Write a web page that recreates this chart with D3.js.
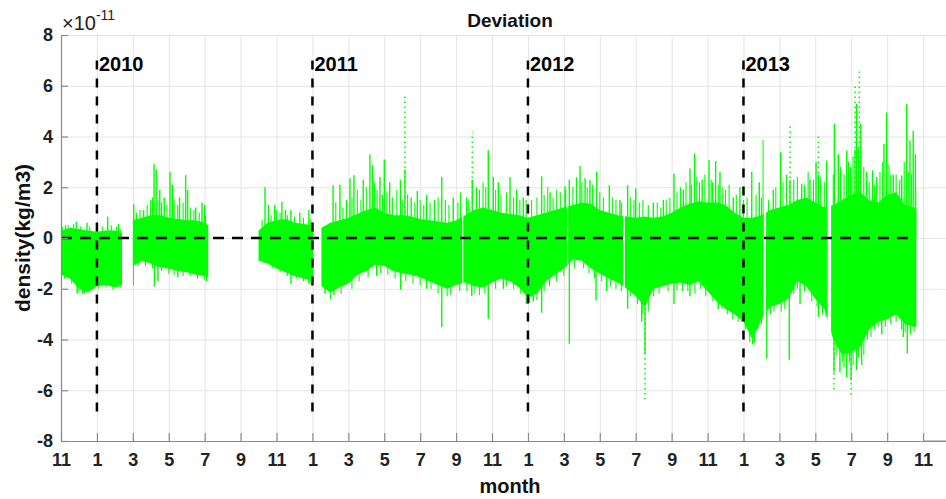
<!DOCTYPE html>
<html>
<head>
<meta charset="utf-8">
<script src="https://cdn.jsdelivr.net/npm/d3@7"></script>
<style>
  body { margin: 0; background: #fff; }
  svg { display: block; font-family: "Liberation Sans", Arial, Helvetica, sans-serif; }
</style>
</head>
<body>
<svg id="chart" width="946" height="499"></svg>
<script>
// Time axis: months counted from 1 Nov 2009.
const tickMonths = d3.range(0, 49, 2);
const tickLabels = ["11","1","3","5","7","9","11","1","3","5","7","9","11","1","3","5","7","9","11","1","3","5","7","9","11"];
const yTicks = [-8, -6, -4, -2, 0, 2, 4, 6, 8];
const yearMonths = [2, 14, 26, 38];
const yearLabels = ["2010", "2011", "2012", "2013"];

// Periods with valid measurements (months).
const segStart = [0, 4.0, 11.0, 14.5, 22.40, 28.24, 31.40, 39.26, 42.88];
const segEnd   = [3.4, 8.2, 14.05, 22.34, 28.18, 31.30, 39.12, 42.68, 47.64];

// Dense band of the deviation (×1e-11 kg/m3): upper and lower edges, half-month steps.
const envT = [0, 0.5, 1, 1.5, 2, 2.5, 3, 3.4,
  4.0, 4.5, 5, 5.5, 6, 6.5, 7, 7.5, 8, 8.2,
  11, 11.5, 12, 12.5, 13, 13.5, 14.05,
  14.5, 15, 15.5, 16, 16.5, 17, 17.5, 18, 18.5, 19, 19.5, 20, 20.5, 21, 21.5, 22, 22.5, 23, 23.5, 24, 24.5, 25, 25.5,
  26, 26.5, 27, 27.5, 28, 28.5, 29, 29.5, 30, 30.5, 31, 31.5, 32, 32.5, 33, 33.5, 34, 34.5, 35, 35.5, 36, 36.5,
  37, 37.5, 38, 38.5, 39, 39.5, 40, 40.5, 41, 41.5, 42, 42.5, 43, 43.5, 44, 44.5, 45, 45.5, 46, 46.5, 47, 47.5, 47.64];
const envHi = [0.3, 0.4, 0.35, 0.3, 0.25, 0.3, 0.3, 0.2,
  0.7, 0.8, 0.9, 0.9, 0.8, 0.75, 0.7, 0.7, 0.6, 0.5,
  0.3, 0.6, 0.7, 0.75, 0.6, 0.55, 0.5,
  0.4, 0.6, 0.7, 0.8, 0.95, 1.1, 1.2, 1.0, 0.9, 0.9, 0.85, 0.75, 0.7, 0.65, 0.6, 0.7, 0.9, 1.1, 1.2, 1.1, 1.0, 0.95, 0.9,
  0.8, 0.9, 1.0, 1.1, 1.2, 1.3, 1.4, 1.35, 1.1, 1.0, 0.9, 0.85, 0.8, 0.85, 0.8, 0.85, 1.0, 1.2, 1.35, 1.45, 1.4, 1.4,
  1.3, 1.0, 0.8, 0.8, 0.9, 1.1, 1.2, 1.3, 1.5, 1.6, 1.4, 1.2, 1.3, 1.5, 1.7, 1.8, 1.5, 1.4, 1.7, 1.8, 1.3, 1.2, 1.1];
const envLo = [-1.45, -1.6, -2.0, -2.15, -1.9, -1.85, -1.95, -1.85,
  -1.1, -0.9, -1.0, -1.15, -1.2, -1.3, -1.35, -1.45, -1.5, -1.55,
  -0.9, -1.0, -1.2, -1.35, -1.5, -1.6, -1.7,
  -1.9, -2.15, -1.95, -1.8, -1.45, -1.3, -1.05, -1.1, -1.3, -1.4, -1.45, -1.55, -1.7, -1.85, -2.0, -1.85, -1.75, -1.9, -1.95, -1.75, -1.6, -1.7, -1.95,
  -2.35, -2.2, -1.7, -1.45, -1.2, -0.85, -0.9, -1.2, -1.4, -1.6, -1.75, -2.0, -2.3, -2.7, -2.0, -1.9, -1.8, -1.75, -1.85, -1.7, -2.1, -2.5,
  -2.8, -3.0, -3.3, -4.0, -3.2, -2.7, -2.6, -2.4, -1.7, -1.9, -2.4, -2.8, -4.0, -4.6, -4.5, -4.3, -3.6, -3.3, -3.2, -3.0, -3.4, -3.5, -3.5];

// Scattered samples just outside the band: [month, value].
const upFringe = [
  [0.1, 0.45], [0.4, 0.5], [0.7, 0.55], [1.1, 0.45], [1.6, 0.45], [2.0, 0.4], [2.3, 0.45], [2.8, 0.5], [3.1, 0.45], [3.3, 0.35],
  [4.2, 1.0], [4.4, 1.1], [4.8, 1.3], [5.1, 1.6], [5.4, 1.5], [5.6, 1.4], [5.9, 1.3], [6.3, 1.5], [6.5, 1.3], [6.8, 1.4],
  [7.2, 1.2], [7.4, 1.1], [7.7, 1.0], [8.05, 0.9],
  [11.2, 0.7], [11.7, 0.9], [12.0, 1.1], [12.2, 1.0], [12.6, 0.9], [13.0, 0.85], [13.5, 0.8], [13.9, 0.75],
  [15.3, 1.4], [15.7, 1.2], [16.2, 1.6], [16.5, 1.9], [16.7, 1.5], [17.0, 2.0], [17.45, 2.2], [17.6, 1.9], [17.9, 1.7],
  [18.15, 1.8], [18.45, 1.6], [18.7, 1.9], [19.0, 1.5], [19.3, 1.7], [19.7, 1.4], [20.0, 1.5], [20.2, 1.3], [20.55, 1.4],
  [21.0, 1.6], [21.4, 1.5], [21.6, 1.3], [22.1, 1.4], [22.25, 1.8], [22.7, 1.5], [23.3, 1.9], [23.5, 2.2], [23.65, 2.0],
  [24.2, 1.9], [24.5, 1.7], [24.8, 1.8], [25.2, 1.6], [25.55, 1.5], [25.9, 1.5],
  [26.2, 1.5], [26.5, 1.6], [26.9, 1.7], [27.1, 2.0], [27.4, 1.6], [27.6, 1.9], [27.8, 1.8], [28.1, 1.9], [28.5, 2.0],
  [28.7, 2.4], [29.0, 2.2], [29.3, 2.0], [29.6, 2.1], [30.0, 1.8], [30.2, 1.6], [30.7, 1.6], [30.9, 1.5], [31.2, 1.4],
  [31.7, 1.6], [31.9, 1.5], [32.2, 1.4], [32.4, 1.5], [32.7, 1.3], [33.2, 1.4], [33.4, 1.2], [33.7, 1.5], [33.9, 1.6],
  [34.3, 1.8], [34.5, 2.0], [34.8, 2.2], [35.1, 2.1], [35.4, 2.4], [35.55, 2.2], [35.85, 2.5], [36.2, 2.3], [36.6, 2.1], [36.85, 2.0],
  [37.0, 1.9], [37.2, 2.1], [37.6, 1.7], [38.0, 1.5], [38.2, 1.6], [38.7, 1.7], [39.0, 1.6], [39.4, 1.5], [39.8, 2.0],
  [40.2, 2.2], [40.4, 2.5], [40.8, 2.3], [41.0, 2.4], [41.4, 2.1], [41.6, 2.6], [41.9, 2.3], [42.3, 2.4], [42.5, 2.2],
  [43.0, 2.5], [43.4, 2.8], [43.6, 2.5], [43.85, 3.0], [44.1, 3.2], [44.4, 3.6], [44.7, 2.8], [45.0, 2.2], [45.3, 2.1],
  [45.6, 2.6], [45.75, 3.0], [46.1, 2.9], [46.2, 2.5], [46.5, 2.5], [46.7, 2.3], [46.95, 3.0], [47.2, 2.6], [47.35, 2.5], [47.6, 2.0]
];
const downFringe = [
  [0.2, -1.6], [0.6, -1.8], [1.0, -2.15], [1.2, -2.2], [1.7, -2.0], [2.1, -2.0], [2.5, -1.95], [2.9, -2.05], [3.3, -1.95],
  [4.3, -1.1], [4.7, -1.1], [5.1, -1.2], [5.6, -1.3], [6.0, -1.4], [6.3, -1.45], [6.8, -1.5], [7.2, -1.5], [7.6, -1.6], [8.0, -1.65],
  [11.3, -1.0], [11.8, -1.2], [12.2, -1.35], [12.6, -1.5], [13.1, -1.6], [13.5, -1.7], [13.9, -1.8],
  [15.0, -2.4], [15.6, -2.2], [16.2, -2.0], [16.6, -1.7], [17.1, -1.55], [17.8, -1.4], [18.2, -1.45], [18.6, -1.6],
  [19.2, -1.7], [19.6, -1.8], [20.0, -1.85], [20.6, -2.0], [21.0, -2.2], [21.5, -2.3], [21.7, -2.25], [22.2, -2.1],
  [22.6, -2.1], [23.0, -2.2], [23.3, -2.25], [23.6, -2.2], [24.2, -2.0], [24.8, -1.9], [25.2, -2.0], [25.6, -2.2], [25.9, -2.6],
  [26.1, -2.55], [26.5, -2.45], [26.9, -2.1], [27.2, -1.9], [27.6, -1.7], [28.0, -1.5], [28.6, -1.2], [29.1, -1.2],
  [29.4, -1.4], [29.7, -1.6], [30.1, -1.7], [30.6, -1.9], [30.9, -2.0], [31.2, -2.1], [31.7, -2.3], [32.1, -2.6],
  [32.4, -3.0], [32.7, -2.9], [33.0, -2.3], [33.3, -2.2], [33.8, -2.1], [34.3, -2.05], [34.6, -2.1], [34.9, -2.1],
  [35.3, -2.2], [35.6, -2.0], [35.9, -2.3], [36.3, -2.5], [36.8, -2.8], [37.1, -3.0], [37.4, -3.2], [37.7, -3.3],
  [38.1, -3.6], [38.35, -4.1], [38.5, -4.2], [38.8, -3.6], [39.0, -3.4], [39.5, -3.0], [39.7, -2.9], [40.1, -2.9],
  [40.3, -2.8], [40.8, -2.2], [41.0, -2.0], [41.4, -2.1], [41.8, -2.5], [42.1, -2.7], [42.4, -3.0], [42.6, -3.1],
  [43.2, -4.6], [43.5, -4.9], [43.6, -5.1], [43.9, -4.9], [44.1, -5.0], [44.4, -4.7], [44.7, -4.6], [44.9, -4.0],
  [45.1, -3.9], [45.3, -3.6], [45.5, -3.5], [45.9, -3.5], [46.2, -3.4], [46.5, -3.3], [46.8, -3.6], [47.0, -3.7],
  [47.3, -3.8], [47.5, -3.7]
];

// Individual excursions beyond the band: [month, value].
const upSpikes = [
  [0.25, 0.5], [0.85, 0.64], [1.45, 0.6], [2.6, 0.84], [3.2, 0.55],
  [4.05, 1.33], [4.6, 1.1], [5.0, 1.5], [5.18, 2.93], [5.3, 2.7], [5.5, 1.9], [5.75, 1.6], [6.07, 2.6], [6.2, 2.1],
  [6.6, 1.6], [6.94, 2.47], [7.05, 1.9], [7.5, 1.2], [7.85, 1.4], [8.0, 1.3],
  [11.36, 2.0], [11.55, 1.3], [11.9, 1.3], [12.3, 1.42], [12.5, 1.1], [12.8, 1.1], [13.3, 1.0], [13.8, 1.1],
  [15.15, 2.08], [15.53, 2.1], [15.9, 1.5], [16.09, 2.35], [16.31, 2.47], [16.83, 2.3], [17.2, 3.29], [17.35, 2.87],
  [17.76, 2.4], [18.0, 3.09], [18.3, 2.2], [18.9, 2.3], [19.15, 2.7], [19.5, 1.6], [19.84, 1.85], [20.36, 1.7],
  [20.8, 1.5], [21.2, 2.4], [21.84, 1.6], [22.59, 1.6], [22.9, 2.3], [23.14, 2.0], [23.79, 3.46], [24.07, 2.4],
  [24.35, 2.2], [25.0, 2.4], [25.37, 1.9], [25.74, 1.6],
  [26.76, 2.43], [27.23, 1.8], [28.06, 2.04], [28.3, 2.3], [28.9, 2.84], [29.18, 2.35], [29.45, 2.3], [29.83, 2.6],
  [30.53, 2.08], [31.12, 1.5], [31.55, 2.08], [32.0, 1.95], [32.98, 1.4], [33.54, 1.5], [34.13, 2.54], [34.65, 1.9],
  [35.02, 2.74], [35.28, 3.33], [35.7, 2.3], [36.08, 3.07], [36.28, 2.2], [36.45, 3.03], [36.69, 2.6],
  [37.43, 1.6], [37.8, 2.0], [38.46, 2.6], [38.88, 2.2], [39.1, 3.87], [39.66, 1.9], [40.07, 3.38], [40.59, 2.3],
  [41.24, 2.14], [41.7, 2.3], [42.04, 3.0], [42.17, 2.5], [42.63, 3.05], [43.06, 4.5], [43.28, 3.3], [43.75, 3.45],
  [43.97, 2.8], [44.21, 3.5], [44.3, 5.28], [44.53, 4.5], [44.86, 2.6], [45.19, 2.66], [45.42, 2.4], [45.82, 3.7],
  [45.97, 4.95], [46.34, 2.5], [46.81, 2.46], [47.09, 5.28], [47.27, 3.84], [47.45, 4.23], [47.57, 3.3]
];
const downSpikes = [
  [0.9, -2.2], [1.3, -2.2], [4.02, -1.87], [5.2, -1.9], [5.4, -1.7], [6.5, -1.55], [8.1, -1.7],
  [12.8, -1.8], [13.8, -1.8], [14.7, -2.2], [15.2, -2.25],
  [17.58, -1.5], [18.91, -2.04], [20.36, -2.0], [21.2, -3.51], [22.87, -2.3], [23.79, -3.18], [24.63, -2.0],
  [26.3, -2.5], [26.76, -2.95], [28.3, -4.17], [29.79, -2.46], [30.38, -2.1], [31.55, -2.79], [32.33, -3.3],
  [32.52, -4.57], [34.13, -2.6], [35.02, -2.3], [36.6, -2.8],
  [37.9, -3.3], [38.6, -4.15], [39.29, -4.75], [40.55, -4.8], [41.15, -2.6], [42.17, -3.1], [43.04, -5.3],
  [43.37, -5.3], [43.75, -5.5], [43.99, -5.6], [44.3, -5.2], [44.58, -5.0], [45.7, -3.8], [46.9, -3.9], [47.12, -4.55]
];
// Isolated outlying samples, drawn as dotted trails.
const sparseUp = [[19.15, 5.63], [22.9, 4.16], [40.59, 4.39], [42.17, 4.04], [44.21, 6.07], [44.45, 6.66]];
const sparseDown = [[32.52, -6.4], [43.04, -6.08], [43.99, -6.25]];

const W = 946, H = 499;
const L = 61, R = 959, T = 35, B = 441;
const GREEN = "#00ff00";

const x = d3.scaleLinear().domain([0, 50]).range([L, R]);
const y = d3.scaleLinear().domain([-8, 8]).range([B, T]);

const svg = d3.select("#chart");
svg.append("rect").attr("width", W).attr("height", H).attr("fill", "#fff");

const defs = svg.append("defs");
defs.append("clipPath").attr("id", "plotClip")
  .append("rect").attr("x", L).attr("y", T).attr("width", R - L).attr("height", B - T);
const segClip = defs.append("clipPath").attr("id", "segClip");
segStart.forEach((s, i) => {
  segClip.append("rect")
    .attr("x", x(s)).attr("y", T)
    .attr("width", x(segEnd[i]) - x(s)).attr("height", B - T);
});

// Grid
const gridX = svg.append("g").attr("transform", `translate(0,${B})`)
  .call(d3.axisBottom(x).tickValues(d3.range(0, 51, 2)).tickSize(-(B - T)).tickFormat(""));
const gridY = svg.append("g").attr("transform", `translate(${L},0)`)
  .call(d3.axisLeft(y).tickValues(yTicks).tickSize(-(R - L)).tickFormat(""));
[gridX, gridY].forEach(g => {
  g.select(".domain").remove();
  g.selectAll(".tick line").attr("stroke", "#e4e4e4").attr("stroke-width", 1);
});

// Deviation samples
const dataG = svg.append("g").attr("clip-path", "url(#plotClip)")
  .append("g").attr("clip-path", "url(#segClip)");

const band = envT.map((t, i) => ({ t, hi: envHi[i], lo: envLo[i] }));
dataG.append("path")
  .datum(band)
  .attr("fill", GREEN)
  .attr("d", d3.area().x(d => x(d.t)).y0(d => y(d.lo)).y1(d => y(d.hi)));

function verticals(cls, rows, width, dash) {
  const sel = dataG.selectAll("line." + cls)
    .data(rows)
    .join("line")
    .attr("class", cls)
    .attr("x1", d => x(d[0])).attr("x2", d => x(d[0]))
    .attr("y1", y(0)).attr("y2", d => y(d[1]))
    .attr("stroke", GREEN).attr("stroke-width", width);
  if (dash) sel.attr("stroke-dasharray", dash);
}
verticals("fringe", upFringe.concat(downFringe), 1.1);
verticals("spike", upSpikes.concat(downSpikes), 1.4);
verticals("sparse", sparseUp.concat(sparseDown), 1.6, "1.6,3.4");

// Reference lines
const refG = svg.append("g").attr("clip-path", "url(#plotClip)");
refG.append("line")
  .attr("x1", x(0)).attr("x2", x(47.5))
  .attr("y1", y(0)).attr("y2", y(0))
  .attr("stroke", "#000").attr("stroke-width", 2.5).attr("stroke-dasharray", "11,8");
refG.selectAll("line.year")
  .data(yearMonths)
  .join("line")
  .attr("class", "year")
  .attr("x1", d => x(d)).attr("x2", d => x(d))
  .attr("y1", y(7)).attr("y2", y(-7))
  .attr("stroke", "#000").attr("stroke-width", 2.5).attr("stroke-dasharray", "9,9");
svg.selectAll("text.year")
  .data(yearMonths)
  .join("text")
  .attr("class", "year")
  .attr("x", d => x(d) + 2)
  .attr("y", y(6.6))
  .attr("font-size", 20).attr("font-weight", "bold").attr("fill", "#000")
  .text((d, i) => yearLabels[i]);

// Axes
const xAxis = svg.append("g").attr("transform", `translate(0,${B})`)
  .call(d3.axisBottom(x).tickValues(tickMonths).tickSizeInner(-8).tickSizeOuter(0).tickPadding(12)
    .tickFormat((d, i) => tickLabels[i]));
const yAxis = svg.append("g").attr("transform", `translate(${L},0)`)
  .call(d3.axisLeft(y).tickValues(yTicks).tickSizeInner(-7).tickSizeOuter(0).tickPadding(8)
    .tickFormat(d => String(d)));
[xAxis, yAxis].forEach(g => {
  g.select(".domain").attr("stroke", "#8a8a8a").attr("stroke-width", 1.2);
  g.selectAll(".tick line").attr("stroke", "#8a8a8a").attr("stroke-width", 1.2);
  g.selectAll(".tick text")
    .attr("font-family", "'Liberation Sans', Arial, sans-serif")
    .attr("font-size", 18).attr("font-weight", "bold").attr("fill", "#222");
});
// bottom axis line continues to the right edge of the axes box
xAxis.append("line").attr("x1", x(48)).attr("x2", R).attr("y1", 0).attr("y2", 0)
  .attr("stroke", "#8a8a8a").attr("stroke-width", 1.2);

// Exponent note
const expo = svg.append("text").attr("x", 62).attr("y", 30)
  .attr("font-size", 20).attr("fill", "#222");
expo.append("tspan").text("×10");
expo.append("tspan").attr("font-size", 14).attr("dy", -10).text("-11");

// Titles
svg.append("text").attr("x", (L + R) / 2).attr("y", 27)
  .attr("text-anchor", "middle").attr("font-size", 19).attr("font-weight", "bold").attr("fill", "#111")
  .text("Deviation");
svg.append("text").attr("x", (L + R) / 2).attr("y", 493)
  .attr("text-anchor", "middle").attr("font-size", 20).attr("font-weight", "bold").attr("fill", "#111")
  .text("month");
svg.append("text")
  .attr("transform", `translate(30,${(T + B) / 2}) rotate(-90)`)
  .attr("text-anchor", "middle").attr("font-size", 21).attr("font-weight", "bold").attr("fill", "#111")
  .text("density(kg/m3)");
</script>
</body>
</html>
